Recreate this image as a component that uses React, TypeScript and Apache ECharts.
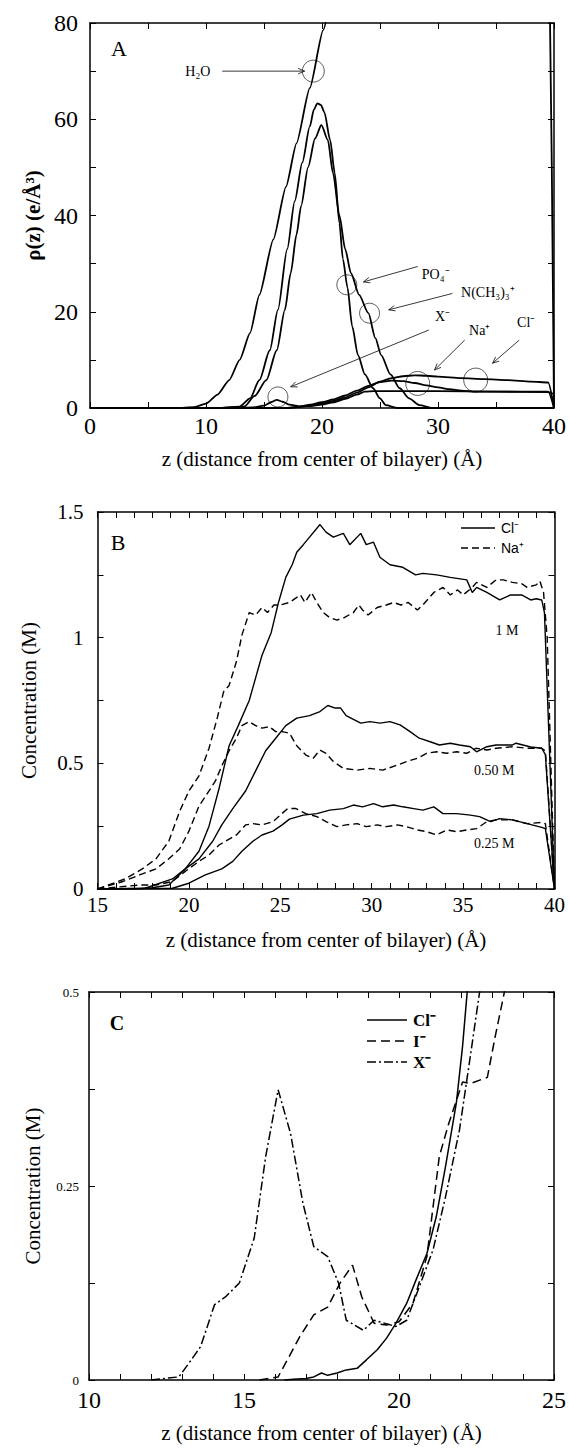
import { useEffect, useRef } from 'react';
import * as echarts from 'echarts';

const W = 569;
const H = 1448;
const SERIF = '"Liberation Serif", "Times New Roman", serif';
const SANS = '"Liberation Sans", Arial, sans-serif';

// ---------- Panel A: electron density (z, rho) ----------
const h2oA = [[0,0],[8,0],[9,0.2],[10,0.9],[11,2.8],[12,5.8],[12.9,10],[13.8,15.6],[14.6,23.5],[15.8,35],[16.9,46],[17.8,55],[18.95,66.5],[20.1,78.5],[21.2,89.5],[22.3,101],[39.55,101],[40,0]];
const po4A = [[0,0],[11,0],[12.9,0.3],[13.8,2],[14.6,5.8],[15.5,12],[16.2,20.4],[17,33],[17.65,43],[18.3,51],[18.95,58.5],[19.3,62],[19.6,63.3],[19.9,63],[20.2,61.5],[20.7,55.7],[21.1,48.8],[21.5,38.4],[21.8,31],[22.2,25],[22.6,17],[23.1,11],[23.7,7],[24.4,4.1],[25,2],[25.5,0.6],[26.5,0],[40,0]];
const nmeA = [[0,0],[11,0],[13.3,0.3],[14.2,2.5],[15.2,5.8],[16.1,12],[16.8,20.4],[17.3,28],[17.8,36],[18.2,42],[18.8,50],[19.4,56],[19.95,58.8],[20.5,55.7],[20.95,48.8],[21.5,40],[22,33],[22.5,28],[23.2,23.5],[24,19.7],[24.6,14.5],[25.1,11],[25.9,7],[26.7,4.1],[27.5,2],[28.4,0.6],[29.5,0],[40,0]];
const clA = [[0,0],[17,0],[18,0.2],[19,0.5],[20,0.9],[21,1.5],[22,2.2],[23,3.2],[24,4.3],[25,5.5],[26,6.2],[27,6.6],[28,6.8],[29,6.7],[30,6.5],[32,6.2],[34,6],[36,5.8],[38,5.5],[39.5,5.3],[40,0]];
const naA = [[0,0],[17,0],[18,0.3],[19,0.7],[20,1.2],[21,1.8],[22,2.6],[23,3.6],[24,4.6],[25,5.4],[26,5.7],[27,5.6],[28,5.2],[29,4.7],[30,4.3],[31,3.9],[32,3.6],[33,3.4],[35,3.4],[37,3.4],[39.5,3.4],[40,0]];
const xA = [[0,0],[13,0],[14,0.1],[15,0.5],[15.6,1.2],[16.1,1.7],[16.6,1.3],[17.2,0.7],[18,0.35],[19,0.4],[20,0.7],[21,1.2],[22,1.9],[23,2.8],[23.7,3.4],[24.5,3.5],[26,3.5],[30,3.5],[35,3.4],[39.5,3.3],[40,2.9]];

// ---------- Panel B: concentration (z, M) ----------
const cl1B = [[15,0],[17,0],[18,0.005],[18.9,0.016],[19.8,0.08],[20.55,0.15],[21.1,0.25],[21.65,0.4],[22.2,0.57],[22.7,0.65],[23.3,0.75],[23.65,0.84],[24,0.93],[24.5,1.02],[24.9,1.14],[25.3,1.24],[25.65,1.29],[25.9,1.34],[26.26,1.37],[26.6,1.4],[27.17,1.45],[27.5,1.42],[27.9,1.4],[28.45,1.415],[28.8,1.37],[29.4,1.415],[29.7,1.37],[30.1,1.38],[30.45,1.32],[31,1.29],[31.7,1.28],[32.4,1.25],[32.8,1.256],[33.55,1.25],[34.3,1.24],[35.2,1.23],[35.5,1.18],[35.74,1.2],[36.3,1.18],[37,1.15],[37.6,1.17],[38.2,1.17],[38.7,1.15],[39,1.155],[39.3,1.15],[39.45,1.1],[40,0]];
const cl05B = [[15,0],[17.6,0.003],[19.1,0.04],[19.8,0.08],[20.55,0.12],[21.3,0.19],[21.8,0.255],[22.4,0.32],[23.1,0.39],[23.65,0.47],[24.2,0.55],[24.75,0.6],[25.3,0.65],[25.9,0.68],[26.6,0.69],[27.17,0.706],[27.6,0.73],[28,0.72],[28.3,0.72],[28.6,0.69],[29.4,0.66],[29.9,0.666],[30.45,0.66],[31,0.666],[31.55,0.653],[32.1,0.626],[32.6,0.6],[33.2,0.586],[33.7,0.573],[34.3,0.58],[34.8,0.573],[35.4,0.566],[35.74,0.546],[36.3,0.566],[36.8,0.573],[37.7,0.573],[37.9,0.58],[38.7,0.565],[39.3,0.56],[39.5,0.535],[40,0]];
const cl025B = [[15,0],[19.1,0.003],[20,0.023],[20.9,0.056],[21.8,0.08],[22.4,0.11],[22.9,0.15],[23.5,0.19],[24,0.215],[24.6,0.23],[25.1,0.255],[25.5,0.278],[26.26,0.294],[27,0.3],[27.7,0.314],[28.45,0.32],[29,0.334],[29.5,0.327],[30.1,0.34],[30.6,0.327],[31.2,0.334],[31.7,0.327],[32.3,0.32],[32.8,0.314],[33.4,0.327],[33.9,0.3],[34.65,0.3],[35.4,0.294],[35.9,0.288],[36.5,0.268],[37,0.28],[37.7,0.275],[38.5,0.26],[39.3,0.245],[39.5,0.24],[40,0]];
const na1B = [[15,0],[15.6,0.016],[16.5,0.04],[17.45,0.08],[18.2,0.12],[18.9,0.19],[19.5,0.31],[20,0.39],[20.55,0.45],[21.1,0.56],[21.55,0.68],[21.9,0.785],[22.2,0.81],[22.6,0.905],[22.9,1.01],[23.3,1.1],[23.65,1.09],[24,1.12],[24.3,1.1],[24.65,1.13],[25,1.13],[25.5,1.14],[26.1,1.17],[26.35,1.14],[26.7,1.18],[27,1.14],[27.35,1.1],[27.7,1.08],[28.1,1.07],[28.5,1.08],[29,1.1],[29.3,1.13],[29.5,1.11],[29.8,1.09],[30.3,1.12],[30.8,1.13],[31.2,1.14],[31.6,1.13],[32,1.14],[32.5,1.11],[32.8,1.13],[33.4,1.18],[33.9,1.2],[34.3,1.17],[34.7,1.19],[35,1.17],[35.5,1.2],[35.74,1.22],[36.3,1.2],[36.8,1.23],[37.2,1.23],[37.7,1.22],[38.2,1.215],[38.5,1.2],[39,1.21],[39.2,1.225],[39.4,1.18],[39.6,1.0],[40,0]];
const na05B = [[15,0],[16.4,0.03],[17.3,0.056],[18.2,0.08],[18.9,0.12],[19.5,0.16],[20,0.23],[20.55,0.33],[21.1,0.39],[21.45,0.43],[21.8,0.49],[22.2,0.55],[22.6,0.6],[22.9,0.65],[23.3,0.666],[23.65,0.65],[24,0.64],[24.4,0.646],[24.75,0.626],[25.1,0.626],[25.5,0.62],[25.9,0.57],[26.4,0.533],[26.8,0.52],[27.17,0.553],[27.5,0.54],[27.9,0.507],[28.45,0.48],[29.2,0.473],[29.9,0.48],[30.6,0.473],[31.4,0.493],[31.9,0.507],[32.5,0.52],[33,0.54],[33.55,0.546],[34.1,0.54],[34.65,0.546],[35.2,0.54],[35.7,0.56],[36.3,0.553],[36.8,0.56],[37.7,0.566],[38.5,0.56],[39.3,0.56],[39.5,0.55],[40,0]];
const na025B = [[15,0],[17.3,0.016],[18.2,0.016],[19.1,0.03],[19.8,0.07],[20.55,0.11],[21.1,0.135],[21.65,0.175],[22,0.19],[22.6,0.215],[23.1,0.255],[23.5,0.26],[24,0.255],[24.6,0.268],[25,0.294],[25.4,0.32],[25.85,0.32],[26.4,0.3],[27,0.288],[27.5,0.268],[28.1,0.248],[28.6,0.255],[29.2,0.26],[29.7,0.248],[30.3,0.255],[30.8,0.248],[31.4,0.255],[31.9,0.248],[32.5,0.235],[33,0.228],[33.55,0.215],[34.1,0.235],[34.65,0.228],[35.2,0.235],[35.74,0.24],[36.3,0.268],[36.8,0.275],[37.7,0.275],[38.5,0.26],[39.3,0.265],[39.5,0.26],[40,0]];

// ---------- Panel C: concentration (z, M) ----------
const clC = [[16.3,0],[16.6,0.001],[17,0.002],[17.25,0.004],[17.5,0.009],[17.7,0.006],[18,0.009],[18.3,0.013],[18.65,0.015],[18.95,0.026],[19.3,0.039],[19.6,0.054],[19.9,0.073],[20.25,0.099],[20.55,0.129],[20.9,0.163],[21.2,0.21],[21.5,0.275],[21.85,0.357],[22.05,0.43],[22.2,0.5],[22.3,0.56]];
const iC = [[15.5,0],[16.1,0.004],[16.4,0.026],[16.8,0.056],[17.25,0.084],[17.7,0.094],[18.1,0.125],[18.5,0.148],[18.8,0.107],[19.2,0.073],[19.6,0.071],[20,0.075],[20.45,0.099],[20.9,0.159],[21.3,0.288],[21.6,0.33],[22.05,0.384],[22.3,0.382],[22.85,0.39],[23.1,0.442],[23.4,0.5],[23.6,0.56]];
const xC = [[12,0],[12.45,0.002],[12.9,0.004],[13.3,0.026],[13.6,0.043],[14.05,0.097],[14.4,0.107],[14.85,0.125],[15.33,0.183],[15.7,0.288],[16.1,0.374],[16.5,0.318],[16.9,0.228],[17.25,0.172],[17.7,0.159],[18.05,0.125],[18.3,0.077],[18.85,0.064],[19.2,0.077],[19.9,0.069],[20.25,0.077],[20.7,0.125],[21.1,0.168],[21.5,0.236],[21.95,0.322],[22.3,0.417],[22.6,0.5],[22.8,0.56]];

// Annotations of panel A (data coordinates)
const annotationsA = [
  { text: 'H₂O', tx: 9.3, ty: 70, from: [11.4, 70], to: [18.5, 70], c: [19.25, 70], r: 11 },
  { text: 'PO₄⁻', tx: 29.8, ty: 27.8, from: [28.25, 29.4], to: [23.57, 26.2], c: [22.14, 25.6], r: 10 },
  { text: 'N(CH₃)₃⁺', tx: 34.3, ty: 23.9, from: [31.24, 23.8], to: [25.75, 20.4], c: [24.1, 19.7], r: 10 },
  { text: 'X⁻', tx: 30.4, ty: 19.1, from: [29.2, 16.2], to: [17.3, 4.4], c: [16.2, 2.3], r: 10 },
  { text: 'Na⁺', tx: 33.6, ty: 16.2, from: [32.3, 14.1], to: [29.7, 7.9], c: [28.25, 5.1], r: 12 },
  { text: 'Cl⁻', tx: 37.6, ty: 17.7, from: [37.0, 14.1], to: [34.7, 9.3], c: [33.25, 5.8], r: 12 },
];
const concLabelsB = [
  { text: '1 M', x: 37.4, y: 1.03 },
  { text: '0.50 M', x: 36.7, y: 0.47 },
  { text: '0.25 M', x: 36.7, y: 0.18 },
];
const legendB = [
  { text: 'Cl⁻', dash: null },
  { text: 'Na⁺', dash: [7, 4] },
];
const legendC = [
  { text: 'Cl⁻', dash: null },
  { text: 'I⁻', dash: [9, 5] },
  { text: 'X⁻', dash: [9, 3, 2, 3] },
];

const X_TITLE = 'z (distance from center of bilayer) (Å)';

function xAxes(g: number, min: number, max: number, interval: number, minor: number, fs: number, margin: number, gap: number, nameFs: number) {
  const common = {
    type: 'value', gridIndex: g, min, max, interval,
    axisLine: { show: true, onZero: false, lineStyle: { color: '#000', width: 1.5 } },
    axisTick: { show: true, inside: true, length: 6, lineStyle: { color: '#000', width: 1 } },
    minorTick: { show: true, splitNumber: minor, length: 6, lineStyle: { color: '#000', width: 1 } },
    splitLine: { show: false },
  };
  return [
    {
      ...common, position: 'bottom',
      axisLabel: { color: '#000', fontFamily: SERIF, fontSize: fs, margin },
      name: X_TITLE, nameLocation: 'middle', nameGap: gap,
      nameTextStyle: { color: '#000', fontFamily: SERIF, fontSize: nameFs },
    },
    { ...common, position: 'top', axisLabel: { show: false } },
  ];
}

function yAxes(g: number, min: number, max: number, interval: number, minor: number, fs: number, margin: number, name: string, gap: number, nameFs: number, bold: boolean) {
  const common = {
    type: 'value', gridIndex: g, min, max, interval,
    axisLine: { show: true, onZero: false, lineStyle: { color: '#000', width: 1.5 } },
    axisTick: { show: true, inside: true, length: 6, lineStyle: { color: '#000', width: 1 } },
    minorTick: { show: true, splitNumber: minor, length: 6, lineStyle: { color: '#000', width: 1 } },
    splitLine: { show: false },
  };
  return [
    {
      ...common, position: 'left',
      axisLabel: { color: '#000', fontFamily: SERIF, fontSize: fs, margin },
      name, nameLocation: 'middle', nameGap: gap,
      nameTextStyle: { color: '#000', fontFamily: SERIF, fontSize: nameFs, fontWeight: bold ? 'bold' : 'normal' },
    },
    { ...common, position: 'right', axisLabel: { show: false } },
  ];
}

function line(name: string, data: number[][], xi: number, yi: number, width: number, type: any, smooth: number = 0) {
  return {
    type: 'line', name, data, xAxisIndex: xi, yAxisIndex: yi,
    showSymbol: false, symbol: 'none', smooth, smoothMonotone: 'x', clip: true,
    lineStyle: { color: '#000', width, type },
    itemStyle: { color: '#000' },
    emphasis: { disabled: true },
    z: 3,
  };
}

const DASH_B = [7, 4];
const DASH_C = [9, 5];
const DASHDOT_C = [9, 3, 2, 3];

export default function App() {
  const ref = useRef<HTMLDivElement>(null);
  useEffect(() => {
    document.body.style.margin = '0';
    const el = ref.current!;
    const chart = echarts.init(el, null, { renderer: 'svg' });
    const option: any = {
      animation: false,
      backgroundColor: '#fff',
      grid: [
        { left: 90, top: 23, width: 464.5, height: 385 },
        { left: 97.5, top: 512, width: 457, height: 377 },
        { left: 89, top: 992, width: 468, height: 388 },
      ],
      xAxis: [
        ...xAxes(0, 0, 40, 10, 2, 24, 6, 40, 21),
        ...xAxes(1, 15, 40, 5, 5, 21, 5, 40, 21),
        ...xAxes(2, 10, 25, 5, 5, 24, 8, 42, 21),
      ],
      yAxis: [
        ...yAxes(0, 0, 80, 20, 2, 24, 12, 'ρ(z) (e/Å³)', 44, 21, true),
        ...yAxes(1, 0, 1.5, 0.5, 2, 21, 14, 'Concentration (M)', 58, 21, false),
        ...yAxes(2, 0, 0.5, 0.25, 2, 13, 10, 'Concentration (M)', 46, 21, false),
      ],
      series: [
        line('H2O', h2oA, 0, 0, 1.8, 'solid', 0.2),
        line('PO4', po4A, 0, 0, 1.8, 'solid', 0.25),
        line('NMe3', nmeA, 0, 0, 1.8, 'solid', 0.25),
        line('ClA', clA, 0, 0, 1.8, 'solid', 0.25),
        line('NaA', naA, 0, 0, 1.8, 'solid', 0.25),
        line('XA', xA, 0, 0, 1.8, 'solid', 0.25),
        line('Cl 1 M', cl1B, 2, 2, 1.4, 'solid'),
        line('Cl 0.50 M', cl05B, 2, 2, 1.4, 'solid'),
        line('Cl 0.25 M', cl025B, 2, 2, 1.4, 'solid'),
        line('Na 1 M', na1B, 2, 2, 1.4, DASH_B),
        line('Na 0.50 M', na05B, 2, 2, 1.4, DASH_B),
        line('Na 0.25 M', na025B, 2, 2, 1.4, DASH_B),
        line('Cl C', clC, 4, 4, 1.5, 'solid'),
        line('I C', iC, 4, 4, 1.5, DASH_C),
        line('X C', xC, 4, 4, 1.5, DASHDOT_C),
      ],
    };
    chart.setOption(option);

    const pA = (pt: number[]) => chart.convertToPixel({ seriesIndex: 0 }, pt) as number[];
    const pB = (pt: number[]) => chart.convertToPixel({ seriesIndex: 6 }, pt) as number[];
    const graphics: any[] = [];
    const ANN = '#222';
    annotationsA.forEach((a) => {
      const [tx, ty] = pA([a.tx, a.ty]);
      const [x1, y1] = pA(a.from);
      const [x2, y2] = pA(a.to);
      const [cx, cy] = pA(a.c);
      graphics.push({ type: 'text', x: tx, y: ty, style: { text: a.text, fontFamily: SERIF, fontSize: 14, fill: '#000', align: 'center', verticalAlign: 'middle' } });
      graphics.push({ type: 'line', shape: { x1, y1, x2, y2 }, style: { stroke: ANN, lineWidth: 0.9 } });
      const ang = Math.atan2(y2 - y1, x2 - x1);
      const L = 7, sp = 0.4;
      graphics.push({
        type: 'polyline',
        shape: { points: [[x2 - L * Math.cos(ang - sp), y2 - L * Math.sin(ang - sp)], [x2, y2], [x2 - L * Math.cos(ang + sp), y2 - L * Math.sin(ang + sp)]] },
        style: { stroke: ANN, lineWidth: 0.9, fill: 'none' },
      });
      graphics.push({ type: 'circle', shape: { cx, cy, r: a.r }, style: { stroke: '#333', lineWidth: 0.8, fill: 'none' } });
    });
    concLabelsB.forEach((l) => {
      const [x, y] = pB([l.x, l.y]);
      graphics.push({ type: 'text', x, y, style: { text: l.text, fontFamily: SERIF, fontSize: 14, fill: '#000', align: 'center', verticalAlign: 'middle' } });
    });
    // legend B
    legendB.forEach((l, i) => {
      const y = 528 + i * 20;
      graphics.push({ type: 'line', shape: { x1: 461, y1: y, x2: 495, y2: y }, style: { stroke: '#000', lineWidth: 1.4, lineDash: l.dash || undefined } });
      graphics.push({ type: 'text', x: 501, y, style: { text: l.text, fontFamily: SANS, fontSize: 14, fill: '#000', align: 'left', verticalAlign: 'middle' } });
    });
    // legend C
    legendC.forEach((l, i) => {
      const y = 1020 + i * 21;
      graphics.push({ type: 'line', shape: { x1: 367, y1: y, x2: 407, y2: y }, style: { stroke: '#000', lineWidth: 1.6, lineDash: l.dash || undefined } });
      graphics.push({ type: 'text', x: 413, y, style: { text: l.text, fontFamily: SERIF, fontSize: 17, fontWeight: 'bold', fill: '#000', align: 'left', verticalAlign: 'middle' } });
    });
    graphics.push({ type: 'text', x: 119, y: 48, style: { text: 'A', fontFamily: SERIF, fontSize: 22, fill: '#000', align: 'center', verticalAlign: 'middle' } });
    graphics.push({ type: 'text', x: 118, y: 542, style: { text: 'B', fontFamily: SERIF, fontSize: 22, fill: '#000', align: 'center', verticalAlign: 'middle' } });
    graphics.push({ type: 'text', x: 117, y: 1023, style: { text: 'C', fontFamily: SERIF, fontSize: 20, fontWeight: 'bold', fill: '#000', align: 'center', verticalAlign: 'middle' } });
    chart.setOption({ graphic: graphics });

    return () => chart.dispose();
  }, []);
  return <div ref={ref} style={{ width: W, height: H }} />;
}
